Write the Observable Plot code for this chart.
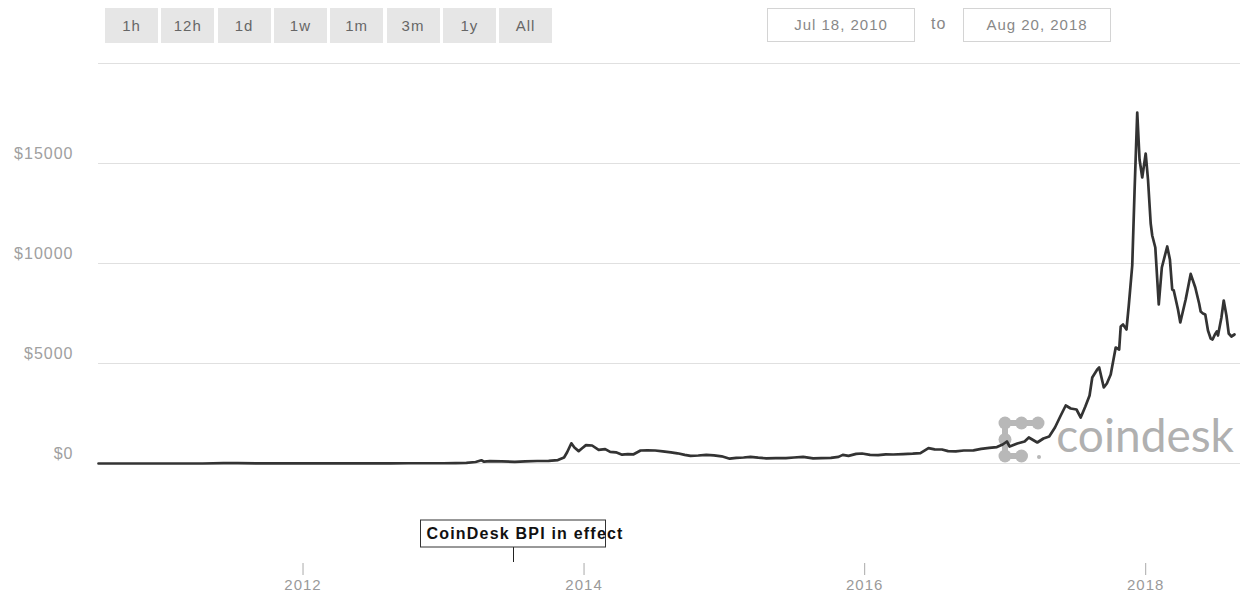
<!DOCTYPE html>
<html>
<head>
<meta charset="utf-8">
<script src="https://cdn.jsdelivr.net/npm/d3@7"></script>
<script src="https://cdn.jsdelivr.net/npm/@observablehq/plot@0.6"></script>
<style>
  html, body { margin: 0; padding: 0; background: #fff; }
  body { font-family: "Liberation Sans", Arial, sans-serif; letter-spacing: 1px; }
  #wrap { position: relative; width: 1240px; height: 595px; overflow: hidden; }
  #chart { position: absolute; left: 0; top: 0; z-index: 1; }
  .btn { position: absolute; top: 8px; height: 35px; width: 53px; background: #e6e6e6;
         color: #666; font-size: 15px; line-height: 35px; text-align: center; z-index: 2; }
  .datebox { position: absolute; top: 8px; height: 32px; width: 146px; border: 1px solid #d4d4d4;
             color: #888; font-size: 15px; line-height: 32px; text-align: center; z-index: 2; background: #fff; }
  .to { position: absolute; top: 8px; left: 931px; line-height: 32px; font-size: 16px; color: #888; z-index: 2; }
  #mark { position: absolute; left: 0; top: 0; z-index: 0; }
</style>
</head>
<body>
<div id="wrap">
  <svg id="mark" width="1240" height="595">
    <g fill="#b8b8b8" stroke="#b8b8b8">
      <line x1="1005" y1="423" x2="1038" y2="423" stroke-width="6"/>
      <line x1="1005" y1="423" x2="1005" y2="456" stroke-width="6"/>
      <line x1="1005" y1="456" x2="1022" y2="456" stroke-width="6"/>
      <circle cx="1005" cy="423" r="6.5" stroke="none"/>
      <circle cx="1021.5" cy="423" r="6.5" stroke="none"/>
      <circle cx="1038" cy="423" r="6.5" stroke="none"/>
      <circle cx="1005" cy="439.5" r="6.5" stroke="none"/>
      <circle cx="1005" cy="456" r="6.5" stroke="none"/>
      <circle cx="1021.5" cy="456" r="6.5" stroke="none"/>
      <circle cx="1039" cy="457" r="2" stroke="none"/>
    </g>
    <text x="1234" y="452" text-anchor="end" fill="#b0b0b0" font-family="Lato, 'Open Sans', sans-serif" font-size="46" letter-spacing="0">coindesk</text>
  </svg>
  <div id="chart"></div>
</div>
<script>
// ---- data ----
const rangeButtons = ["1h", "12h", "1d", "1w", "1m", "3m", "1y", "All"];
const rangeFrom = "Jul 18, 2010";
const rangeTo = "Aug 20, 2018";
const yTicks = [0, 5000, 10000, 15000];
const gridTicks = [0, 5000, 10000, 15000, 20000];
const xTickYears = ["2012-01-01", "2014-01-01", "2016-01-01", "2018-01-01"];
const annotationDates = ["2013-07-01"];
const annotationLabels = ["CoinDesk BPI in effect"];

const dates = [
  "2010-07-18","2010-10-01","2010-11-07","2011-01-01","2011-02-10","2011-04-15","2011-06-08","2011-07-15",
  "2011-09-01","2011-11-18","2012-01-08","2012-03-01","2012-06-01","2012-08-16","2012-10-01","2012-12-31",
  "2013-02-01","2013-03-01","2013-03-25","2013-04-09","2013-04-16","2013-05-01","2013-06-01","2013-07-05",
  "2013-08-01","2013-09-01","2013-10-01","2013-10-25","2013-11-10","2013-11-18","2013-11-29","2013-12-07",
  "2013-12-18","2013-12-27","2014-01-06","2014-01-22","2014-02-08","2014-02-25","2014-03-10","2014-03-25",
  "2014-04-10","2014-04-25","2014-05-10","2014-05-28","2014-06-15","2014-07-05","2014-07-25","2014-08-15",
  "2014-09-01","2014-09-20","2014-10-05","2014-10-25","2014-11-15","2014-12-05","2014-12-25","2015-01-15",
  "2015-02-01","2015-02-20","2015-03-10","2015-03-30","2015-04-20","2015-05-15","2015-06-10","2015-07-01",
  "2015-07-25","2015-08-20","2015-09-10","2015-10-05","2015-10-25","2015-11-05","2015-11-20","2015-12-10",
  "2015-12-25","2016-01-15","2016-02-05","2016-02-25","2016-03-15","2016-04-10","2016-05-05","2016-05-25",
  "2016-06-15","2016-07-01","2016-07-20","2016-08-05","2016-08-25","2016-09-15","2016-10-10","2016-10-30",
  "2016-11-20","2016-12-10","2016-12-25","2017-01-05","2017-01-12","2017-02-01","2017-02-20","2017-03-03",
  "2017-03-25","2017-04-10","2017-04-25","2017-05-10","2017-05-25","2017-06-07","2017-06-20","2017-07-05",
  "2017-07-16","2017-07-28","2017-08-08","2017-08-15","2017-08-28","2017-09-02","2017-09-14","2017-09-22",
  "2017-10-02","2017-10-15","2017-10-24","2017-10-28","2017-11-03","2017-11-12","2017-11-18","2017-11-27",
  "2017-12-03","2017-12-10","2017-12-16","2017-12-23","2018-01-01","2018-01-07","2018-01-14","2018-01-18",
  "2018-01-26","2018-02-04","2018-02-12","2018-02-26","2018-03-05","2018-03-11","2018-03-15","2018-03-26",
  "2018-04-01","2018-04-15","2018-04-28","2018-05-10","2018-05-20","2018-05-24","2018-05-30","2018-06-05",
  "2018-06-12","2018-06-19","2018-06-24","2018-06-30","2018-07-05","2018-07-08","2018-07-17","2018-07-23",
  "2018-07-30","2018-08-05","2018-08-12","2018-08-20"
];
const prices = [
  0.09,0.06,0.3,0.3,1.0,1.0,20,14,
  8,2.2,7,5,5.3,11,12,13.5,
  20,34,75,160,90,117,110,80,
  105,125,130,170,300,560,1010,800,
  620,760,920,900,680,720,580,560,
  440,470,460,650,660,650,610,560,
  510,430,380,400,430,410,360,240,
  280,300,330,290,260,270,270,300,
  330,260,270,280,330,430,380,480,
  500,430,420,460,450,470,490,520,
  770,710,700,620,610,650,660,730,
  780,820,950,1100,850,1000,1100,1300,
  1050,1250,1350,1800,2400,2900,2750,2700,
  2300,2850,3400,4300,4700,4800,3800,4000,
  4450,5800,5700,6850,6950,6700,7900,9900,
  13600,17550,15200,14300,15500,14200,12000,11400,
  10800,7950,9800,10850,10200,8700,8650,7700,
  7050,8200,9480,8800,8000,7600,7500,7450,
  6650,6250,6200,6450,6600,6400,7300,8150,
  7400,6500,6350,6450
];

const table = dates.map((d, i) => ({date: new Date(d + "T00:00:00Z"), price: prices[i]}));
const annotations = annotationDates.map((d, i) => ({date: new Date(d + "T00:00:00Z"), label: annotationLabels[i]}));

// ---- HTML controls ----
const wrap = document.getElementById("wrap");
rangeButtons.forEach((b, i) => {
  const el = document.createElement("div");
  el.className = "btn";
  el.style.left = (105 + i * 56.3) + "px";
  el.textContent = b;
  wrap.appendChild(el);
});
[[rangeFrom, 767], [rangeTo, 963]].forEach(([t, left]) => {
  const el = document.createElement("div");
  el.className = "datebox";
  el.style.left = left + "px";
  el.textContent = t;
  wrap.appendChild(el);
});
const to = document.createElement("div");
to.className = "to";
to.textContent = "to";
wrap.appendChild(to);

// ---- annotation render mark ----
function annotationMark(data) {
  return (index, scales, values, dimensions) => {
    const g = d3.create("svg:g");
    const base = dimensions.height - dimensions.marginBottom;
    for (const a of data) {
      const x = Math.round(scales.x(a.date)) + 0.5;
      g.append("line").attr("x1", x).attr("x2", x)
        .attr("y1", base + 84).attr("y2", base + 99)
        .attr("stroke", "#222").attr("stroke-width", 1);
      g.append("rect").attr("x", x - 93).attr("y", base + 57)
        .attr("width", 185).attr("height", 27)
        .attr("fill", "none").attr("stroke", "#333").attr("stroke-width", 1);
      g.append("text").attr("x", x - 87).attr("y", base + 76)
        .attr("text-anchor", "start")
        .attr("fill", "#111").attr("font-weight", "bold").attr("font-size", 16)
        .attr("letter-spacing", "1.2px")
        .text(a.label);
    }
    return g.node();
  };
}

const chart = Plot.plot({
  width: 1240,
  height: 595,
  marginTop: 63,
  marginBottom: 132,
  marginLeft: 98,
  marginRight: 0,
  style: {fontFamily: "'Liberation Sans', Arial, sans-serif", background: "transparent", letterSpacing: "1px"},
  x: {type: "utc", domain: [table[0].date, table[table.length - 1].date], range: [98, 1234]},
  y: {domain: [0, 20000]},
  marks: [
    Plot.gridY(gridTicks, {stroke: "#e0e0e0", strokeOpacity: 1}),
    Plot.axisY(yTicks, {tickSize: 0, tickPadding: 25, dy: -10, fontSize: 16, fill: "#a0a0a0",
      tickFormat: d => "$" + d, label: null}),
    Plot.axisX(xTickYears.map(d => new Date(d + "T00:00:00Z")), {tickSize: 12, tickPadding: 4, dy: 100,
      fontSize: 15, fill: "#9a9a9a", stroke: "#aaa", tickFormat: d3.utcFormat("%Y"), label: null}),
    Plot.line(table, {x: "date", y: "price", stroke: "#333", strokeWidth: 2.7, strokeLinejoin: "round"}),
    annotationMark(annotations)
  ]
});
document.getElementById("chart").appendChild(chart);
</script>
</body>
</html>
